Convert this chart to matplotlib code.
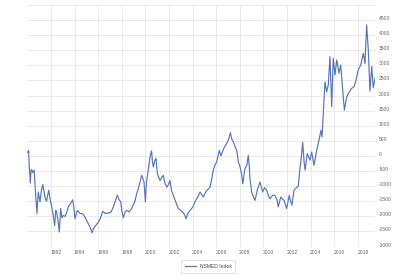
import matplotlib
matplotlib.use('Agg')
import matplotlib.pyplot as plt
import matplotlib.transforms as mtransforms


# NSMED Index (year fraction, value)
years = [1990.02, 1990.1, 1990.16, 1990.25, 1990.3, 1990.36, 1990.45, 1990.58, 1990.67, 1990.81,
         1990.92, 1991.07, 1991.18, 1991.3, 1991.49, 1991.62, 1991.81, 1991.95, 1992.06, 1992.2,
         1992.31, 1992.4, 1992.48, 1992.6, 1992.7, 1992.82, 1992.93, 1993.04, 1993.2, 1993.33,
         1993.5, 1993.61, 1993.84, 1993.95, 1994.03, 1994.23, 1994.45, 1994.74, 1994.95, 1995.16,
         1995.35, 1995.48, 1995.6, 1995.8, 1996.01, 1996.2, 1996.38, 1996.6, 1996.86, 1997.1,
         1997.28, 1997.45, 1997.62, 1997.78, 1997.91, 1998.0, 1998.13, 1998.28, 1998.42, 1998.62,
         1998.84, 1999.12, 1999.26, 1999.4, 1999.55, 1999.69, 1999.88, 2000.0, 2000.08, 2000.25,
         2000.39, 2000.52, 2000.6, 2000.67, 2000.8, 2000.9, 2001.01, 2001.12, 2001.24, 2001.4,
         2001.52, 2001.65, 2001.81, 2001.95, 2002.08, 2002.22, 2002.36, 2002.55, 2002.79, 2003.0,
         2003.16, 2003.33, 2003.44, 2003.6, 2003.78, 2004.0, 2004.2, 2004.45, 2004.63, 2004.91,
         2005.1, 2005.25, 2005.47, 2005.6, 2005.75, 2005.9, 2006.04, 2006.26, 2006.4, 2006.47,
         2006.7, 2006.89, 2007.05, 2007.2, 2007.33, 2007.45, 2007.6, 2007.74, 2007.88, 2008.02,
         2008.15, 2008.25, 2008.44, 2008.6, 2008.72, 2008.8, 2008.86, 2009.0, 2009.15, 2009.29,
         2009.48, 2009.71, 2009.94, 2010.1, 2010.28, 2010.42, 2010.56, 2010.8, 2010.98, 2011.15,
         2011.26, 2011.47, 2011.6, 2011.75, 2011.86, 2011.97, 2012.19, 2012.3, 2012.42, 2012.59,
         2012.8, 2012.96, 2013.1, 2013.16, 2013.33, 2013.45, 2013.53, 2013.72, 2013.95, 2014.09,
         2014.29, 2014.52, 2014.74, 2014.88, 2014.97, 2015.08, 2015.22, 2015.36, 2015.5, 2015.64,
         2015.79, 2015.92, 2016.07, 2016.21, 2016.41, 2016.55, 2016.72, 2016.86, 2017.06, 2017.28,
         2017.48, 2017.68, 2017.85, 2018.04, 2018.25, 2018.47, 2018.61, 2018.75, 2018.89, 2019.03,
         2019.18, 2019.31, 2019.52]
values = [120, 180, -350, -900, -500, -450, -550, -470, -1130, -1900,
          -1190, -1520, -1150, -940, -1360, -1500, -1130, -1500, -1670, -2000,
          -2300, -1800, -1860, -2150, -2520, -1740, -2050, -1970, -2000, -1860,
          -1650, -1600, -1450, -1750, -2080, -1800, -1900, -1930, -2080, -2240,
          -2400, -2540, -2400, -2300, -2190, -2050, -1830, -1900, -1890, -1850,
          -1690, -1500, -1300, -1450, -1520, -1800, -2050, -1850, -1800, -1850,
          -1740, -1490, -1250, -1080, -850, -640, -860, -1520, -900, -450,
          -30, 170, -200, -360, -150, -80, -580, -700, -810, -700,
          -640, -900, -1030, -950, -810, -1150, -1300, -1500, -1740, -1800,
          -1860, -1950, -2080, -1900, -1800, -1700, -1520, -1350, -1190, -1360,
          -1200, -1130, -1030, -800, -470, -300, -200, 190, 0, 80,
          300, 410, 550, 770, 550, 470, 300, 190, -200, -360,
          -600, -920, -420, -300, 20, -300, -750, -1190, -1350, -1470,
          -1130, -860, -1190, -1050, -1130, -1300, -1410, -1300, -1300, -1450,
          -1690, -1360, -1420, -1470, -1600, -1740, -1300, -1500, -1630, -1130,
          -1050, -1000, -400, -250, 450, -200, -470, 80, -140, 130,
          -310, 190, 580, 850, 630, 1410, 2450, 2120, 2350, 3290,
          1630, 3230, 2680, 3180, 2740, 3010, 2180, 1520, 1960, 2120,
          2240, 2290, 2510, 2850, 3010, 3400, 3060, 4340, 3510, 2150,
          2960, 2260, 2680]

x_ticks = list(range(1992, 2019, 2))
y_ticks = list(range(-3000, 5001, 500))

plt.rcParams['font.family'] = ['Liberation Sans', 'DejaVu Sans']

fig = plt.figure(figsize=(4.14, 2.76), dpi=100)
ax = fig.add_axes([27.4 / 414, 1 - 246.6 / 276, 348.1 / 414, 241.7 / 276])

ax.plot(years, values, color='#5675ba', linewidth=0.85, label='NSMED Index')

ax.set_xlim(1990.0, 2019.5)
ax.set_ylim(-3000, 5000)
ax.set_xticks(x_ticks)
ax.set_xticklabels([str(y) for y in x_ticks])
ax.set_yticks(y_ticks)
ax.set_yticklabels(['' if v == 5000 else str(v) for v in y_ticks])
ax.yaxis.tick_right()

ax.grid(True, color='#e6e6e6', linewidth=0.6)
ax.set_axisbelow(True)
for s in ax.spines.values():
    s.set_visible(False)

ax.tick_params(axis='both', length=0, labelsize=3.6, labelcolor='#666666')
ax.tick_params(axis='x', pad=2.2)
ax.tick_params(axis='y', pad=2.5)
for lab in ax.get_yticklabels():
    lab.set_horizontalalignment('left')
    lab.set_transform(lab.get_transform() + mtransforms.ScaledTranslation(0, 2 / 100, fig.dpi_scale_trans))
for lab in ax.get_xticklabels():
    lab.set_transform(lab.get_transform() + mtransforms.ScaledTranslation(5 / 100, 0, fig.dpi_scale_trans))

leg = fig.legend(loc='center', bbox_to_anchor=(208 / 414, 1 - 266 / 276), fontsize=3.6,
                 frameon=True, fancybox=False, handlelength=2.2, borderpad=0.8, handletextpad=0.8)
leg.get_frame().set_edgecolor('#d0d0d0')
leg.get_frame().set_linewidth(0.5)
for t in leg.get_texts():
    t.set_color('#444444')

fig.savefig('out.png', dpi=100)
